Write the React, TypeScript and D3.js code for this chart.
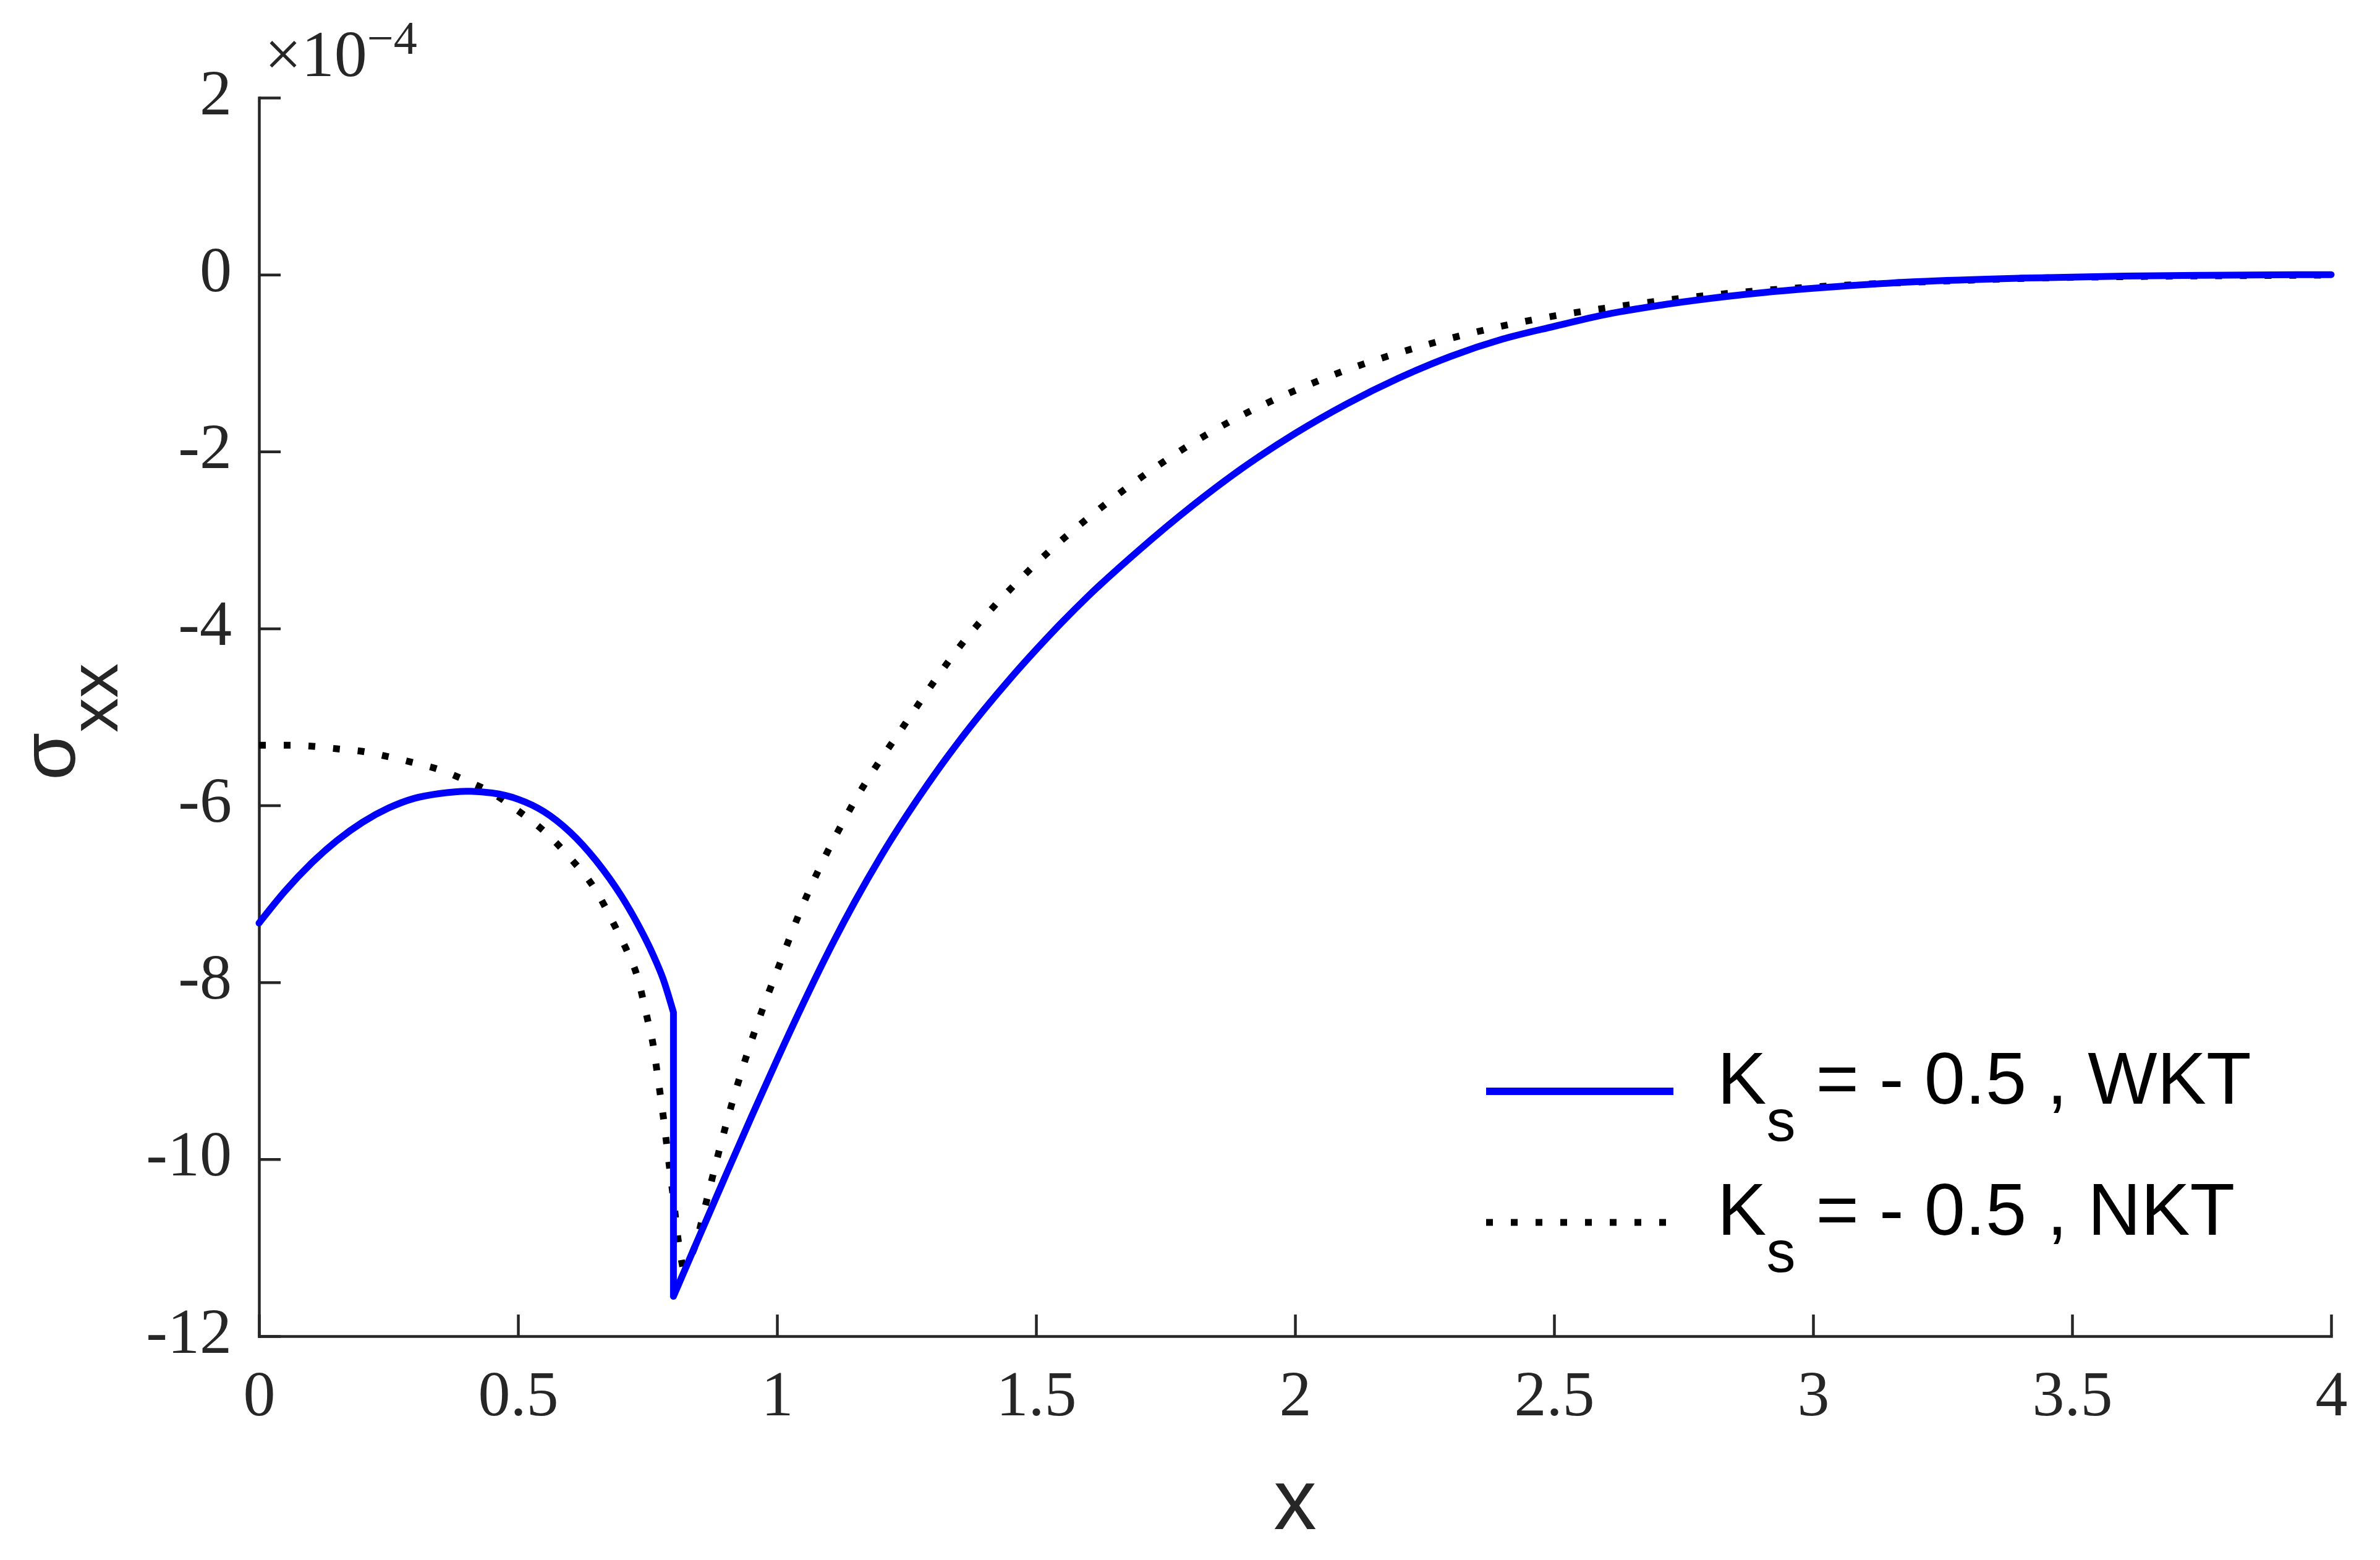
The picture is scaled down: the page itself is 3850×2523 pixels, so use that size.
import { useEffect } from "react";
import * as d3 from "d3";

const W = 3850;
const H = 2523;

const X_TICKS = [0, 0.5, 1, 1.5, 2, 2.5, 3, 3.5, 4];
const Y_TICKS = [2, 0, -2, -4, -6, -8, -10, -12];

// K_s = -0.5, WKT (blue, solid) - left branch up to the jump at x = 0.8
const wktLeftX = [0, 0.05, 0.1, 0.15, 0.2, 0.25, 0.3, 0.35, 0.4, 0.45, 0.5, 0.55, 0.6, 0.65, 0.7, 0.73, 0.76, 0.78, 0.8];
const wktLeftY = [-7.33, -6.97, -6.66, -6.4, -6.19, -6.03, -5.92, -5.865, -5.84, -5.86, -5.93, -6.07, -6.3, -6.62, -7.03, -7.33, -7.68, -7.96, -8.34];
// right branch, starting at the bottom of the jump
const wktRightX = [0.8, 0.85, 0.9, 0.95, 1, 1.05, 1.1, 1.15, 1.2, 1.25, 1.3, 1.35, 1.4, 1.45, 1.5, 1.55, 1.6, 1.7, 1.8, 1.9, 2, 2.1, 2.2, 2.3, 2.4, 2.5, 2.6, 2.7, 2.8, 2.9, 3, 3.2, 3.4, 3.6, 3.8, 4];
const wktRightY = [-11.55, -10.87, -10.195, -9.527, -8.875, -8.245, -7.645, -7.09, -6.58, -6.115, -5.685, -5.285, -4.915, -4.567, -4.24, -3.93, -3.638, -3.108, -2.62, -2.18, -1.795, -1.46, -1.17, -0.925, -0.73, -0.585, -0.45, -0.35, -0.27, -0.205, -0.155, -0.08, -0.04, -0.017, -0.006, 0];

// K_s = -0.5, NKT (black, dotted) - down to the cusp, then back up
const nktLeftX = [0, 0.05, 0.1, 0.15, 0.2, 0.25, 0.3, 0.35, 0.4, 0.45, 0.5, 0.55, 0.6, 0.65, 0.69, 0.71, 0.73, 0.75, 0.76, 0.77, 0.78, 0.79, 0.8, 0.81, 0.818];
const nktLeftY = [-5.32, -5.32, -5.33, -5.36, -5.39, -5.45, -5.52, -5.6, -5.72, -5.86, -6.06, -6.29, -6.59, -6.96, -7.4, -7.64, -7.93, -8.42, -8.68, -9.08, -9.5, -9.98, -10.45, -10.95, -11.22];
const nktRightX = [0.818, 0.84, 0.864, 0.887, 0.912, 0.94, 0.971, 1.006, 1.041, 1.144, 1.247, 1.36, 1.487, 1.635, 1.829, 2.045, 2.274, 2.46, 2.648, 2.84, 3.028, 3.266, 3.46, 3.65, 4];
const nktRightY = [-11.22, -11.01, -10.47, -9.93, -9.39, -8.85, -8.32, -7.78, -7.25, -6.01, -5.08, -4.15, -3.34, -2.59, -1.81, -1.2, -0.76, -0.51, -0.34, -0.21, -0.13, -0.07, -0.035, -0.02, -0.005];

const LEGEND_LABELS = ["WKT", "NKT"];

const AXIS = "#262626";
const SERIF = "'Liberation Serif', 'Times New Roman', serif";
const SANS = "'Liberation Sans', Arial, Helvetica, sans-serif";

export default function App() {
	useEffect(() => {
		const svg = d3.select("#sigma-svg");
		svg.selectAll("*").remove();

		const x = d3.scaleLinear().domain([0, 4]).range([419, 3771]);
		const y = d3.scaleLinear().domain([-12, 2]).range([2161, 158]);

		// Axes (MATLAB style: inward ticks, no box)
		const xAxis = svg.append("g")
			.attr("transform", `translate(0,${y(-12)})`)
			.call(d3.axisBottom(x).tickValues(X_TICKS).tickSizeInner(-35).tickSizeOuter(0).tickFormat(d3.format("")));
		const yAxis = svg.append("g")
			.attr("transform", `translate(${x(0)},0)`)
			.call(d3.axisLeft(y).tickValues(Y_TICKS).tickSizeInner(-35).tickSizeOuter(0).tickFormat(d3.format("")));

		[xAxis, yAxis].forEach(ax => {
			ax.select(".domain").attr("stroke", AXIS).attr("stroke-width", 4.5).attr("stroke-linecap", "square");
			ax.selectAll(".tick line").attr("stroke", AXIS).attr("stroke-width", 4.5);
			ax.selectAll(".tick text")
				.attr("fill", AXIS)
				.attr("font-family", SERIF)
				.attr("font-size", 104);
		});
		xAxis.selectAll(".tick text").attr("y", 128).attr("dy", 0);
		yAxis.selectAll(".tick text")
			.attr("x", -44)
			.attr("dy", 26)
			.text(d => (d as number) < 0 ? "-" + Math.abs(d as number) : String(d));

		// exponent
		const expo = svg.append("text")
			.attr("x", 428)
			.attr("y", 123)
			.attr("fill", AXIS)
			.attr("font-family", SERIF)
			.attr("font-size", 106);
		expo.append("tspan").text("×10");
		expo.append("tspan").attr("font-size", 76).attr("dy", -36).text("−4");

		// Curves
		const line = d3.line<number>()
			.x(([px]: any) => x(px))
			.y(([, py]: any) => y(py))
			.curve(d3.curveMonotoneX) as any;

		const zip = (xs: number[], ys: number[]) => xs.map((v, i) => [v, ys[i]]);
		const joined = (a: number[][], b: number[][]) =>
			line(a) + line(b).replace(/^M/, "L");

		svg.append("path")
			.attr("d", joined(zip(nktLeftX, nktLeftY), zip(nktRightX, nktRightY)))
			.attr("fill", "none")
			.attr("stroke", "#000000")
			.attr("stroke-width", 11)
			.attr("stroke-dasharray", "11 29");

		svg.append("path")
			.attr("d", joined(zip(wktLeftX, wktLeftY), zip(wktRightX, wktRightY)))
			.attr("fill", "none")
			.attr("stroke", "#0000ff")
			.attr("stroke-width", 11)
			.attr("stroke-linejoin", "round")
			.attr("stroke-linecap", "round");

		// Axis labels
		svg.append("text")
			.attr("x", (x(0) + x(4)) / 2)
			.attr("y", 2473)
			.attr("text-anchor", "middle")
			.attr("fill", AXIS)
			.attr("font-family", SANS)
			.attr("font-size", 139)
			.text("x");

		const ylab = svg.append("text")
			.attr("transform", "translate(121,1262) rotate(-90)")
			.attr("fill", AXIS)
			.attr("font-family", SANS)
			.attr("font-size", 125);
		ylab.append("tspan").text("σ");
		ylab.append("tspan").attr("font-size", 112).attr("dy", 69).text("xx");

		// Legend
		const legend = svg.append("g");
		LEGEND_LABELS.forEach((lab, i) => {
			const row = legend.append("g").attr("transform", `translate(0,${i * 212})`);
			row.append("line")
				.attr("x1", 2404)
				.attr("x2", 2707)
				.attr("y1", 1765)
				.attr("y2", 1765)
				.attr("stroke", i === 0 ? "#0000ff" : "#000000")
				.attr("stroke-width", i === 0 ? 12 : 11)
				.attr("stroke-dasharray", i === 0 ? null : "11 29");
			const t = row.append("text")
				.attr("x", 2778)
				.attr("y", 1785)
				.attr("fill", "#000000")
				.attr("font-family", SANS)
				.attr("font-size", 119);
			t.append("tspan").text("K");
			t.append("tspan").attr("font-size", 94).attr("dy", 60).text("s");
			t.append("tspan").attr("dy", -60).text(` = - 0.5 , ${lab}`);
		});
	}, []);

	return (
		<svg
			id="sigma-svg"
			width={W}
			height={H}
			style={{ position: "absolute", left: 0, top: 0, background: "#ffffff" }}
		></svg>
	);
}
